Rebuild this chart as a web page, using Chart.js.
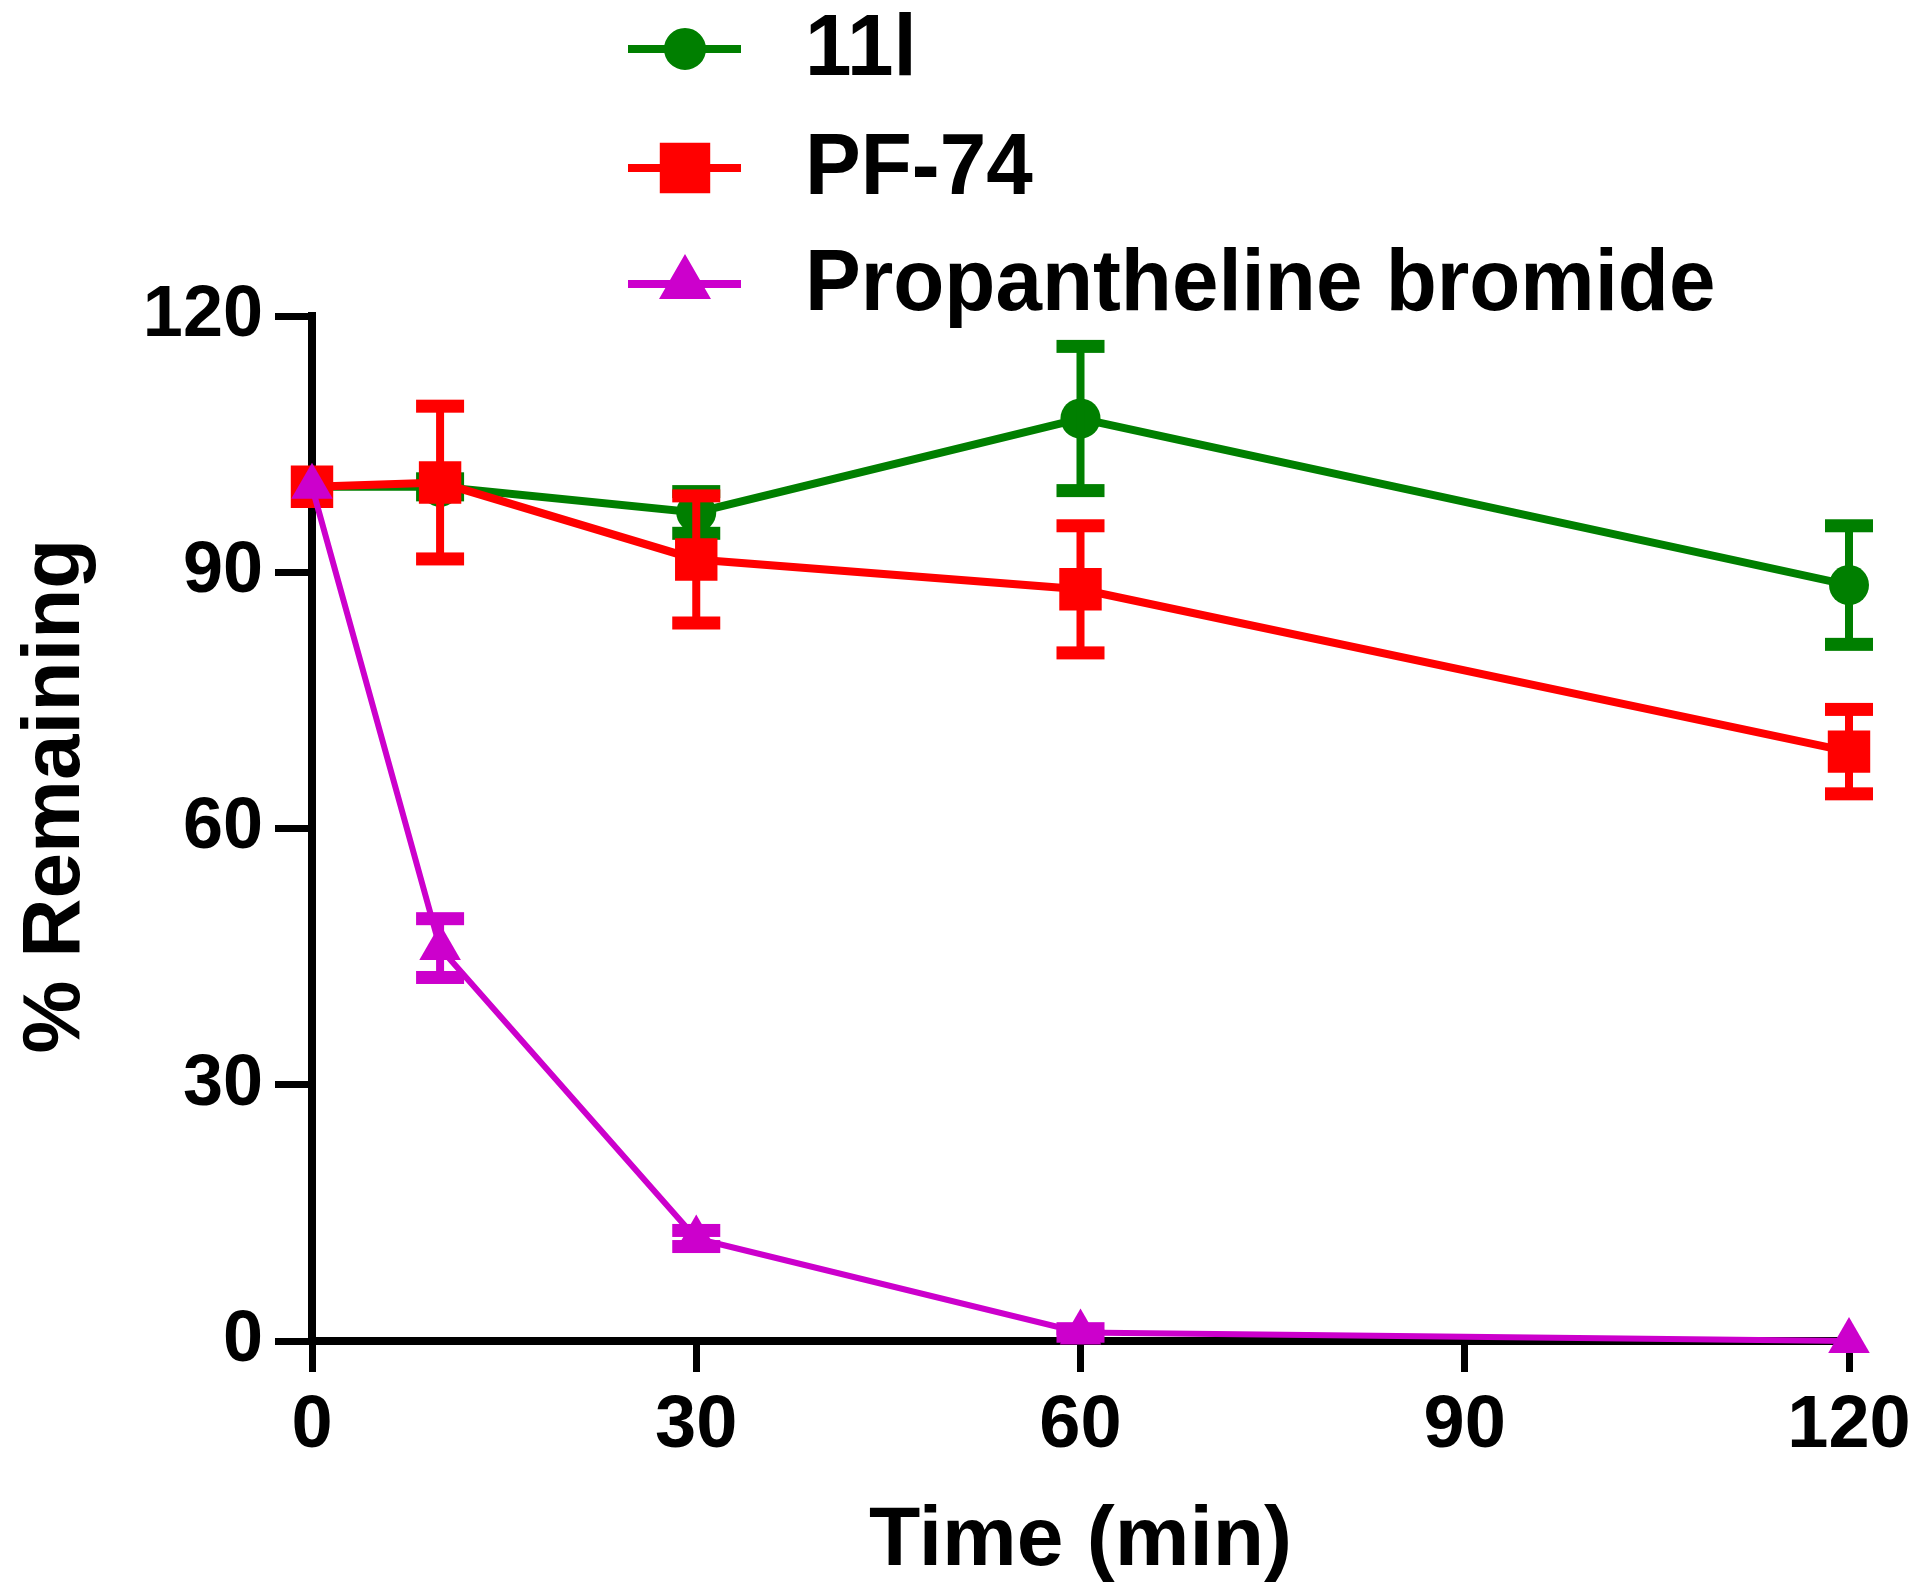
<!DOCTYPE html>
<html>
<head>
<meta charset="utf-8">
<script src="https://cdn.jsdelivr.net/npm/chart.js@4.4.1/dist/chart.umd.min.js"></script>
<style>
  html, body { margin: 0; padding: 0; background: #fff; }
  #wrap { width: 1920px; height: 1592px; position: relative; }
</style>
</head>
<body>
<div id="wrap"><canvas id="stabilityChart"></canvas></div>
<script>
// 時間 (min)
const times = [0, 10, 30, 60, 120];
// 各化合物の残存率 (%) と誤差
const labels = ['11l', 'PF-74', 'Propantheline bromide'];
const remain11l = [100, 100, 97, 108, 88.5];
const err11l = [0, 1, 2.5, 8.5, 7];
const remainPF74 = [100, 100.5, 91.5, 88, 69];
const errPF74 = [0, 9, 7.5, 7.5, 5];
const remainProp = [100, 46, 12, 1, 0];
const errProp = [0, 3.5, 1, 0.5, 0];
const tickValues = [0, 30, 60, 90, 120];
const yTitle = '% Remaining';
const xTitle = 'Time (min)';

const fontFamily = "'Liberation Sans', Arial, sans-serif";

function toPoints(vals) {
    return times.map((t, i) => ({ x: t, y: vals[i] }));
}

// 誤差棒の描画
const errorBars = {
    id: 'errorBars',
    afterDatasetDraw(chart, args) {
        const ds = chart.data.datasets[args.index];
        if (!ds.errors) return;
        const ctx = chart.ctx;
        const xs = chart.scales.x, ys = chart.scales.y;
        ctx.save();
        ctx.strokeStyle = ds.borderColor;
        ctx.fillStyle = ds.borderColor;
        ds.data.forEach((p, i) => {
            const e = ds.errors[i];
            if (!e) return;
            const px = xs.getPixelForValue(p.x);
            const top = ys.getPixelForValue(p.y + e);
            const bot = ys.getPixelForValue(p.y - e);
            ctx.lineWidth = 8;
            ctx.beginPath();
            ctx.moveTo(px, top);
            ctx.lineTo(px, bot);
            ctx.stroke();
            ctx.fillRect(px - 24, top - 6, 48, 13);
            ctx.fillRect(px - 24, bot - 7, 48, 13);
        });
        ctx.restore();
    }
};

// 縦並びの凡例と縦軸タイトル
const sideLegend = {
    id: 'sideLegend',
    afterDraw(chart) {
        const ctx = chart.ctx;
        const rows = [49, 168, 284];
        ctx.save();
        chart.data.datasets.forEach((ds, r) => {
            const y = rows[r];
            ctx.strokeStyle = ds.borderColor;
            ctx.lineWidth = 8;
            ctx.beginPath();
            ctx.moveTo(628, y);
            ctx.lineTo(741, y);
            ctx.stroke();
            Chart.helpers.drawPoint(ctx, {
                pointStyle: ds.pointStyle,
                radius: ds.legendRadius,
                borderWidth: 1
            }, 685, y);
            ctx.fillStyle = ds.borderColor;
            ctx.fill();
            ctx.save();
            ctx.translate(805, y + 2);
            ctx.scale(0.95, 1);
            ctx.fillStyle = '#000';
            ctx.font = "bold 88px " + fontFamily;
            ctx.textBaseline = 'middle';
            ctx.textAlign = 'left';
            ctx.fillText(ds.label, 0, 0);
            ctx.restore();
        });
        // 縦軸タイトル
        ctx.translate(56, 796);
        ctx.rotate(-Math.PI / 2);
        ctx.fillStyle = '#000';
        ctx.font = "bold 82px " + fontFamily;
        ctx.textAlign = 'center';
        ctx.textBaseline = 'middle';
        ctx.fillText(yTitle, 0, 0);
        ctx.restore();
    }
};

const ctx = document.getElementById('stabilityChart').getContext('2d');
const chart = new Chart(ctx, {
    type: 'line',
    data: {
        datasets: [{
            label: labels[0],
            data: toPoints(remain11l),
            errors: err11l,
            borderColor: '#007F00',
            backgroundColor: '#007F00',
            borderWidth: 8,
            pointStyle: 'circle',
            pointRadius: 20,
            legendRadius: 17,
            pointBorderWidth: 0,
            order: 3
        }, {
            label: labels[1],
            data: toPoints(remainPF74),
            errors: errPF74,
            borderColor: '#FF0000',
            backgroundColor: '#FF0000',
            borderWidth: 8,
            pointStyle: 'rect',
            pointRadius: 30,
            legendRadius: 30,
            pointBorderWidth: 0,
            order: 2
        }, {
            label: labels[2],
            data: toPoints(remainProp),
            errors: errProp,
            borderColor: '#CC00CC',
            backgroundColor: '#CC00CC',
            borderWidth: 6,
            pointStyle: 'triangle',
            pointRadius: 24,
            legendRadius: 22,
            pointBorderWidth: 0,
            order: 1
        }]
    },
    options: {
        responsive: true,
        maintainAspectRatio: false,
        animation: false,
        clip: false,
        layout: { padding: { top: 316, right: 71, left: 0, bottom: 0 } },
        plugins: {
            legend: { display: false },
            tooltip: { enabled: false }
        },
        scales: {
            x: {
                type: 'linear',
                min: 0,
                max: 120,
                afterFit(scale) {
                    scale.height = 251;
                    scale.paddingLeft = 0;
                    scale.paddingRight = 0;
                },
                afterBuildTicks(scale) { scale.ticks = tickValues.map(v => ({ value: v })); },
                grid: {
                    display: true,
                    drawOnChartArea: false,
                    drawTicks: true,
                    tickLength: 31,
                    tickWidth: 7,
                    tickColor: '#000'
                },
                border: { display: true, color: '#000', width: 8 },
                ticks: {
                    color: '#000',
                    padding: 10,
                    maxRotation: 0,
                    font: { family: fontFamily, size: 74, weight: 'bold' }
                },
                title: {
                    display: true,
                    text: xTitle,
                    color: '#000',
                    padding: { top: 0, bottom: 0 },
                    font: { family: fontFamily, size: 84, weight: 'bold' }
                }
            },
            y: {
                min: 0,
                max: 120,
                afterFit(scale) {
                    scale.width = 312;
                    scale.paddingTop = 0;
                    scale.paddingBottom = 0;
                },
                afterBuildTicks(scale) { scale.ticks = tickValues.map(v => ({ value: v })); },
                grid: {
                    display: true,
                    drawOnChartArea: false,
                    drawTicks: true,
                    tickLength: 37,
                    tickWidth: 7,
                    tickColor: '#000'
                },
                border: { display: true, color: '#000', width: 8 },
                ticks: {
                    color: '#000',
                    padding: 12,
                    font: { family: fontFamily, size: 72, weight: 'bold' }
                },
                title: { display: false }
            }
        }
    },
    plugins: [errorBars, sideLegend]
});
</script>
</body>
</html>
